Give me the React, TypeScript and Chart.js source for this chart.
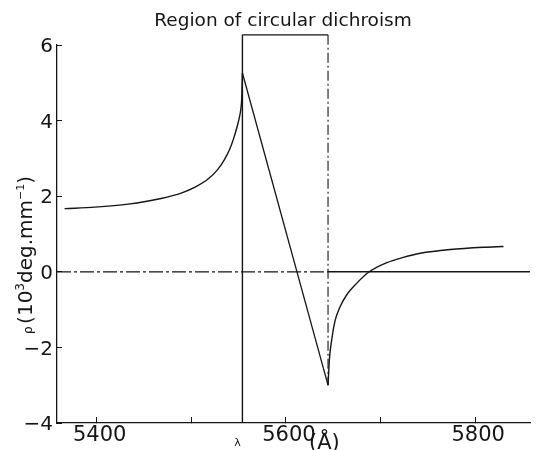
import React, { useEffect, useRef } from 'react';
import { Chart, registerables } from 'chart.js';

Chart.register(...registerables);

// ---- data ----
const leftLambda = [5366, 5398, 5433, 5468, 5490, 5504, 5518, 5528, 5535, 5541, 5545, 5548.5, 5550.5, 5552.3, 5553.3, 5554];
const leftRho = [1.67, 1.71, 1.79, 1.94, 2.09, 2.24, 2.46, 2.71, 2.97, 3.27, 3.55, 3.85, 4.05, 4.3, 4.6, 5.26];

const cdLambda = [5554, 5644.5];
const cdRho = [5.26, -3.0];

const rightLambda = [5644.5, 5646, 5648.4, 5651.9, 5657, 5664, 5675, 5687, 5706.6, 5724, 5742, 5773.5, 5808.5, 5830];
const rightRho = [-3.0, -2.3, -1.8, -1.3, -0.94, -0.62, -0.3, -0.02, 0.24, 0.38, 0.49, 0.59, 0.65, 0.67];

const regionStart = 5554;
const regionEnd = 5644.5;
const regionTop = 6.27;
const regionRightBottom = -3.0;

const xMin = 5358;
const xMax = 5858;
const yMin = -4;
const yMax = 6;

const xTickValues = [5400, 5500, 5600, 5700, 5800];
const xTickLabels = ['5400', '', '5600', '', '5800'];
const yTickValues = [-4, -2, 0, 2, 4, 6];
const yTickLabels = ['−4', '−2', '0', '2', '4', '6'];

const titleText = 'Region of circular dichroism';

const INK = '#151515';
const FONT = "'DejaVu Sans', sans-serif";

const pts = (xs: number[], ys: number[]) => xs.map((x, i) => ({ x, y: ys[i] }));

const textPlugin = {
  id: 'textPlugin',
  afterDraw(chart: any) {
    const ctx = chart.ctx as CanvasRenderingContext2D;
    ctx.save();
    ctx.fillStyle = INK;
    // Title
    ctx.font = `18.5px ${FONT}`;
    ctx.textAlign = 'center';
    ctx.textBaseline = 'alphabetic';
    ctx.fillText(titleText, 283, 26);

    // Y axis title, rotated
    const segs = [
      { t: 'ρ', s: 12, dy: 0 },
      { t: ' ', s: 8, dy: 0 },
      { t: '(10', s: 20, dy: 0 },
      { t: '3', s: 12, dy: -8 },
      { t: 'deg.mm', s: 20, dy: 0 },
      { t: '−1', s: 11, dy: -8 },
      { t: ')', s: 20, dy: 0 },
    ];
    let total = 0;
    const widths: number[] = [];
    for (const sg of segs) {
      ctx.font = `${sg.s}px ${FONT}`;
      const w = ctx.measureText(sg.t).width;
      widths.push(w);
      total += w;
    }
    ctx.translate(32, 255);
    ctx.rotate(-Math.PI / 2);
    ctx.textAlign = 'left';
    let cx = -total / 2;
    segs.forEach((sg, i) => {
      ctx.font = `${sg.s}px ${FONT}`;
      ctx.fillText(sg.t, cx, sg.dy);
      cx += widths[i];
    });
    ctx.restore();

    ctx.save();
    ctx.fillStyle = INK;
    ctx.textBaseline = 'alphabetic';
    ctx.textAlign = 'left';
    ctx.font = `21px ${FONT}`;
    ctx.fillText('(Å)', 309, 449);
    ctx.textAlign = 'center';
    ctx.font = `11px ${FONT}`;
    ctx.fillText('λ', 237.5, 446);
    ctx.restore();
  },
};

export default function App() {
  const canvasRef = useRef<HTMLCanvasElement | null>(null);

  useEffect(() => {
    if (!canvasRef.current) return;
    const lineBase = {
      borderColor: INK,
      backgroundColor: INK,
      pointRadius: 0,
      pointHoverRadius: 0,
      fill: false,
    };
    const chart = new Chart(canvasRef.current, {
      type: 'line',
      data: {
        datasets: [
          { ...lineBase, data: pts(leftLambda, leftRho), borderWidth: 1.4, cubicInterpolationMode: 'monotone' },
          { ...lineBase, data: pts(cdLambda, cdRho), borderWidth: 1.3, tension: 0 },
          { ...lineBase, data: pts(rightLambda, rightRho), borderWidth: 1.4, cubicInterpolationMode: 'monotone' },
          { ...lineBase, data: [{ x: xMin, y: 0 }, { x: regionEnd, y: 0 }], borderWidth: 1.2, borderDash: [14, 3, 3, 3], tension: 0 },
          { ...lineBase, data: [{ x: regionEnd, y: 0 }, { x: xMax, y: 0 }], borderWidth: 1.6, tension: 0 },
          { ...lineBase, data: [{ x: regionStart, y: yMin }, { x: regionStart, y: regionTop }], borderWidth: 1.4, tension: 0, clip: false },
          { ...lineBase, data: [{ x: regionStart, y: regionTop }, { x: regionEnd, y: regionTop }], borderWidth: 1.2, tension: 0, clip: false },
          { ...lineBase, data: [{ x: regionEnd, y: regionTop }, { x: regionEnd, y: regionRightBottom }], borderWidth: 1.1, borderDash: [10, 3, 2, 3], tension: 0, clip: false },
        ] as any,
      },
      options: {
        responsive: false,
        animation: false,
        devicePixelRatio: 1,
        layout: { padding: { top: 45, right: 7, left: 0, bottom: 0 } },
        plugins: {
          legend: { display: false },
          tooltip: { enabled: false },
          title: { display: false },
        },
        scales: {
          x: {
            type: 'linear',
            min: xMin,
            max: xMax,
            position: 'bottom',
            afterBuildTicks: (s: any) => {
              s.ticks = xTickValues.map((v) => ({ value: v }));
            },
            afterFit: (s: any) => {
              s.height = 27;
            },
            ticks: {
              autoSkip: false,
              maxRotation: 0,
              minRotation: 0,
              padding: 6,
              labelOffset: 3,
              color: INK,
              font: { family: FONT, size: 21 },
              callback: (v: any) => {
                const i = xTickValues.indexOf(Number(v));
                return i >= 0 ? xTickLabels[i] : '';
              },
            },
            grid: { drawOnChartArea: false, drawTicks: true, tickLength: -6, color: INK, lineWidth: 1 },
            border: { display: true, color: INK, width: 1.3 },
          },
          y: {
            type: 'linear',
            min: yMin,
            max: yMax,
            afterBuildTicks: (s: any) => {
              s.ticks = yTickValues.map((v) => ({ value: v }));
            },
            afterFit: (s: any) => {
              s.width = 57;
            },
            ticks: {
              autoSkip: false,
              padding: 9,
              labelOffset: 2,
              color: INK,
              font: { family: FONT, size: 20 },
              callback: (v: any) => {
                const i = yTickValues.indexOf(Number(v));
                return i >= 0 ? yTickLabels[i] : '';
              },
            },
            grid: { drawOnChartArea: false, drawTicks: true, tickLength: -5, color: INK, lineWidth: 1 },
            border: { display: true, color: INK, width: 1.3 },
          },
        },
      } as any,
      plugins: [textPlugin],
    });
    return () => chart.destroy();
  }, []);

  return (
    <div style={{ position: 'fixed', left: 0, top: 0, width: 537, height: 450, background: '#fff' }}>
      <canvas ref={canvasRef} width={537} height={450} style={{ width: 537, height: 450, display: 'block' }} />
    </div>
  );
}
